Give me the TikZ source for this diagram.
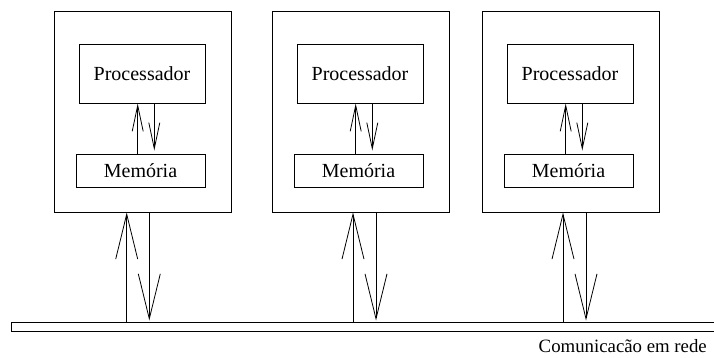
\documentclass[tikz,border=0pt]{standalone}
\usepackage{fontspec}
\setmainfont{Liberation Serif}
\newfontfamily\tnr{Liberation Serif}
\usetikzlibrary{arrows.meta}
\begin{document}
\begin{tikzpicture}[x=1pt,y=-1pt,
  box/.style={draw, line width=0.9pt, rectangle, inner sep=0pt},
  bigarrow/.style={line width=0.8pt, -{Straight Barb[length=45pt,width=22pt,line width=0.8pt]}},
  smallarrow/.style={line width=0.8pt, -{Straight Barb[length=26pt,width=11pt,line width=0.8pt]}},
  txt/.style={font=\tnr\fontsize{20}{24}\selectfont},
  lbltxt/.style={font=\tnr\fontsize{18.8}{22}\selectfont}]
\clip (0,0) rectangle (714,358);
\fill[white] (0,0) rectangle (714,358);
% bus
\node[box, anchor=north west, minimum width=720pt, minimum height=9pt] (bus) at (11,322) {};
% nodes: three computers
\foreach \i/\dx/\ua/\da in {1/0/126.7/149.3, 2/218/353/376, 3/428/563/586} {
  \node[box, minimum width=177pt, minimum height=201pt] (box\i) at (142.5+\dx,111.5) {};
  \node[box, txt, minimum width=126pt, minimum height=59pt] (proc\i) at (142+\dx,73.5) {Processador\hspace{9.6pt}};
  \node[box, txt, minimum width=129pt, minimum height=33.5pt] (mem\i) at (140.5+\dx,170.75) {Memória};
  \coordinate (iu\i) at (137.7+\dx,0);
  \coordinate (id\i) at (154.3+\dx,0);
  \coordinate (ou\i) at (\ua,0);
  \coordinate (od\i) at (\da,0);
  \draw[smallarrow] (mem\i.north -| iu\i) -- (proc\i.south -| iu\i);
  \draw[smallarrow, shorten >=3pt] (proc\i.south -| id\i) -- (mem\i.north -| id\i);
  \draw[bigarrow] (bus.north -| ou\i) -- (box\i.south -| ou\i);
  \draw[bigarrow, shorten >=1.5pt] (box\i.south -| od\i) -- (bus.north -| od\i);
}
\node[lbltxt, anchor=base east, inner sep=0pt] (lbl) at (707,352.5) {Comunicacão em rede};
\end{tikzpicture}
\end{document}
